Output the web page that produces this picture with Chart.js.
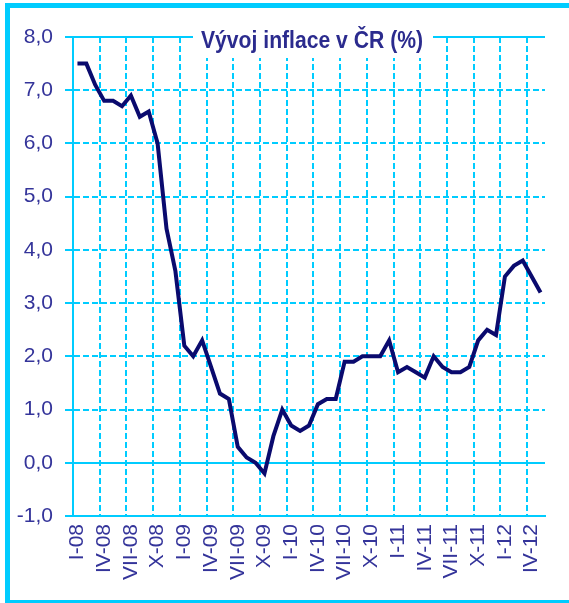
<!DOCTYPE html>
<html>
<head>
<meta charset="utf-8">
<script src="https://cdn.jsdelivr.net/npm/chart.js@4/dist/chart.umd.min.js"></script>
<style>
  body { margin: 0; background: #fff; }
  #wrap { width: 569px; height: 603px; }
</style>
</head>
<body>
<div id="wrap"><canvas id="myChart" width="569" height="603"></canvas></div>
<script>
const months = [
  "I-08", "II-08", "III-08", "IV-08", "V-08", "VI-08", "VII-08", "VIII-08", "IX-08", "X-08", "XI-08", "XII-08",
  "I-09", "II-09", "III-09", "IV-09", "V-09", "VI-09", "VII-09", "VIII-09", "IX-09", "X-09", "XI-09", "XII-09",
  "I-10", "II-10", "III-10", "IV-10", "V-10", "VI-10", "VII-10", "VIII-10", "IX-10", "X-10", "XI-10", "XII-10",
  "I-11", "II-11", "III-11", "IV-11", "V-11", "VI-11", "VII-11", "VIII-11", "IX-11", "X-11", "XI-11", "XII-11",
  "I-12", "II-12", "III-12", "IV-12", "V-12"
];
const inflation = [
  7.5, 7.5, 7.1, 6.8, 6.8, 6.7, 6.9, 6.5, 6.6, 6.0, 4.4, 3.6,
  2.2, 2.0, 2.3, 1.8, 1.3, 1.2, 0.3, 0.1, 0.0, -0.2, 0.5, 1.0,
  0.7, 0.6, 0.7, 1.1, 1.2, 1.2, 1.9, 1.9, 2.0, 2.0, 2.0, 2.3,
  1.7, 1.8, 1.7, 1.6, 2.0, 1.8, 1.7, 1.7, 1.8, 2.3, 2.5, 2.4,
  3.5, 3.7, 3.8, 3.5, 3.2
];
const yMin = -1;
const yMax = 8;
const titleText = "Vývoj inflace v ČR (%)";

const cyan = "#00ccff";
const textBlue = "#34349a";

// outer frame + title box drawn on the canvas
const decor = {
  id: "decor",
  beforeDraw(chart) {
    const ctx = chart.ctx;
    ctx.save();
    ctx.fillStyle = "#fff";
    ctx.fillRect(0, 0, chart.width, chart.height);
    ctx.strokeStyle = cyan;
    ctx.lineWidth = 5;
    ctx.strokeRect(7.5, 5.5, 620, 597);
    ctx.restore();
  },
  afterDatasetsDraw(chart) {
    const ctx = chart.ctx;
    ctx.save();
    ctx.fillStyle = "#fff";
    ctx.fillRect(193, 30, 240, 28);
    ctx.font = "bold 23px 'Liberation Sans', Arial, sans-serif";
    ctx.fillStyle = "#2b2b8e";
    ctx.textBaseline = "alphabetic";
    const w = ctx.measureText(titleText).width;
    ctx.translate(201, 48);
    ctx.scale(222 / w, 1);
    ctx.fillText(titleText, 0, 0);
    ctx.restore();
  }
};

new Chart("myChart", {
  type: "line",
  data: {
    labels: months,
    datasets: [{
      data: inflation,
      borderColor: "#0a0a6e",
      borderWidth: 4,
      pointRadius: 0,
      tension: 0,
      fill: false
    }]
  },
  options: {
    responsive: false,
    animation: false,
    layout: { padding: { left: 0, top: 37, right: 24, bottom: 0 } },
    plugins: { legend: { display: false }, tooltip: { enabled: false }, title: { display: false } },
    scales: {
      x: {
        offset: true,
        afterFit: (scale) => {
          scale.height = 87;
          scale.paddingLeft = 0;
          scale.paddingRight = 0;
        },
        grid: {
          offset: true,
          drawTicks: false,
          lineWidth: 2,
          color: (c) => (c.index % 3 === 0 || c.index === months.length) ? cyan : "rgba(0,0,0,0)"
        },
        border: {
          color: cyan,
          width: 2,
          dash: (c) => (c.index === 0 || c.index === months.length) ? [] : [6, 3]
        },
        ticks: {
          autoSkip: false,
          minRotation: 90,
          maxRotation: 90,
          padding: 8,
          color: textBlue,
          font: { family: "'Liberation Sans', Arial, sans-serif", size: 21 },
          callback: (v, i) => (i % 3 === 0 ? months[i] : "")
        }
      },
      y: {
        min: yMin,
        max: yMax,
        afterFit: (scale) => { scale.width = 73; },
        grid: {
          lineWidth: 2,
          color: cyan,
          tickLength: 8,
          tickColor: cyan
        },
        border: {
          color: cyan,
          width: 2,
          dash: (c) => (c.tick && (c.tick.value === 0 || c.tick.value === yMax || c.tick.value === yMin)) ? [] : [6, 3]
        },
        ticks: {
          stepSize: 1,
          padding: 12,
          color: textBlue,
          font: { family: "'Liberation Sans', Arial, sans-serif", size: 21 },
          callback: (v) => v.toFixed(1).replace(".", ",")
        }
      }
    }
  },
  plugins: [decor]
});
</script>
</body>
</html>
